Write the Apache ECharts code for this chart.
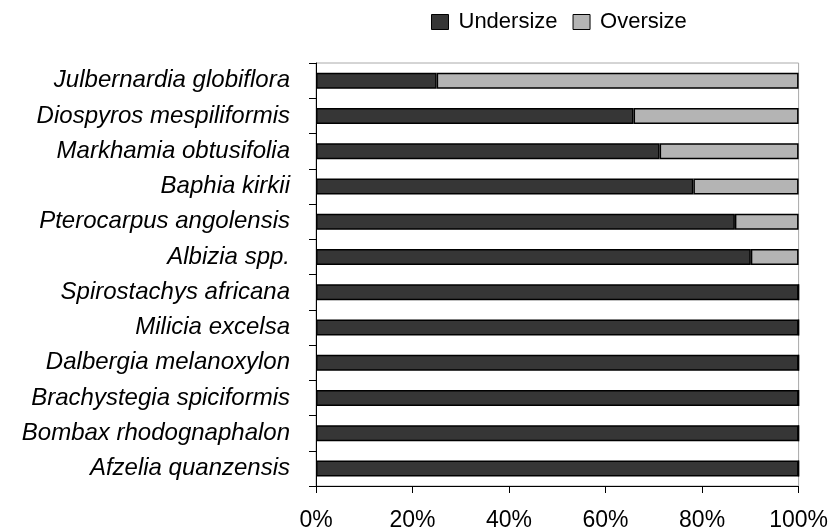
<!DOCTYPE html>
<html>
<head>
<meta charset="utf-8">
<script src="https://cdn.jsdelivr.net/npm/echarts@6/dist/echarts.min.js"></script>
<style>
  html, body { margin: 0; padding: 0; background: #fff; }
  #chart { width: 831px; height: 532px; }
</style>
</head>
<body>
<div id="chart"></div>
<script>
// species, listed top to bottom
var species = [
  'Julbernardia globiflora',
  'Diospyros mespiliformis',
  'Markhamia obtusifolia',
  'Baphia kirkii',
  'Pterocarpus angolensis',
  'Albizia spp.',
  'Spirostachys africana',
  'Milicia excelsa',
  'Dalbergia melanoxylon',
  'Brachystegia spiciformis',
  'Bombax rhodognaphalon',
  'Afzelia quanzensis'
];
// percent of stems in each class
var undersize = [25, 65.8, 71.2, 78.2, 86.8, 90.1, 100, 100, 100, 100, 100, 100];
var oversize = [75, 34.2, 28.8, 21.8, 13.2, 9.9, 0, 0, 0, 0, 0, 0];
var xTicks = [0, 20, 40, 60, 80, 100];

var myChart = echarts.init(document.getElementById('chart'));
var font = '"Liberation Sans", Arial, sans-serif';

var option = {
  animation: false,
  legend: {
    data: ['Undersize', 'Oversize'],
    left: 426,
    top: 6,
    itemWidth: 17,
    itemHeight: 15,
    itemGap: 15,
    icon: 'rect',
    itemStyle: { borderColor: '#000', borderWidth: 1 },
    textStyle: {
      fontFamily: font,
      fontSize: 22,
      color: '#000',
      padding: [0, 0, 0, 5]
    }
  },
  grid: {
    left: 316,
    right: 32,
    top: 63,
    bottom: 45,
    show: true,
    borderColor: '#aaa',
    borderWidth: 1
  },
  xAxis: {
    type: 'value',
    min: 0,
    max: 100,
    interval: 20,
    splitLine: { show: false },
    axisLine: { show: true, lineStyle: { color: '#000', width: 1 } },
    axisTick: { show: true, length: 7, lineStyle: { color: '#000' } },
    axisLabel: {
      margin: 23,
      fontFamily: font,
      fontSize: 23,
      color: '#000',
      formatter: function (v) {
        return xTicks.indexOf(v) >= 0 ? v + '%' : '';
      }
    }
  },
  yAxis: {
    type: 'category',
    data: species,
    inverse: true,
    axisLine: { show: true, lineStyle: { color: '#000', width: 1 } },
    axisTick: { show: true, length: 7, lineStyle: { color: '#000' } },
    axisLabel: {
      margin: 26,
      fontFamily: font,
      fontStyle: 'italic',
      fontSize: 24,
      color: '#000'
    }
  },
  series: [
    {
      name: 'Undersize',
      type: 'bar',
      stack: 'total',
      barWidth: 16,
      data: undersize,
      itemStyle: { color: '#363636', borderColor: '#000', borderWidth: 1.5 }
    },
    {
      name: 'Oversize',
      type: 'bar',
      stack: 'total',
      barWidth: 16,
      data: oversize,
      itemStyle: { color: '#b4b4b4', borderColor: '#000', borderWidth: 1.5 }
    }
  ]
};

myChart.setOption(option);
</script>
</body>
</html>
